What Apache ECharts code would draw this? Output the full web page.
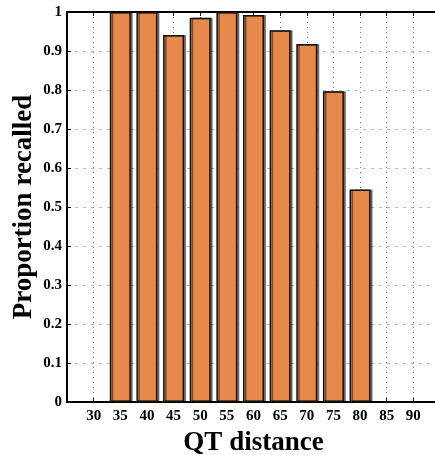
<!DOCTYPE html>
<html>
<head>
<meta charset="utf-8">
<script src="https://cdn.jsdelivr.net/npm/echarts@6/dist/echarts.min.js"></script>
<style>
  html, body { margin: 0; padding: 0; background: #fff; }
  #chart { width: 435px; height: 455px; }
</style>
</head>
<body>
<div id="chart"></div>
<script>
// QT distance vs proportion recalled
const distances = [35, 40, 45, 50, 55, 60, 65, 70, 75, 80];
const recalled = [1.0, 1.0, 0.941, 0.985, 1.0, 0.992, 0.953, 0.918, 0.797, 0.545];
const xTicks = [30, 35, 40, 45, 50, 55, 60, 65, 70, 75, 80, 85, 90];

const serif = '"Liberation Serif", "DejaVu Serif", serif';
const chart = echarts.init(document.getElementById('chart'));

const tickFmt = v => (xTicks.indexOf(v) >= 0 ? String(v) : '');

chart.setOption({
    animation: false,
    grid: {
        left: 67,
        right: -5,
        top: 12,
        bottom: 53,
        containLabel: false,
        outerBoundsMode: 'none',
        show: true,
        borderColor: '#000',
        borderWidth: 1.5
    },
    xAxis: [
        {
            type: 'value',
            min: 25,
            max: 95,
            interval: 5,
            name: 'QT distance',
            nameLocation: 'middle',
            nameGap: 28,
            nameTextStyle: {fontFamily: serif, fontWeight: 'bold', fontSize: 27, color: '#000'},
            axisLine: {show: true, lineStyle: {color: '#000', width: 2}},
            axisTick: {show: true, inside: true, length: 4, lineStyle: {color: '#000'}},
            axisLabel: {
                formatter: tickFmt,
                fontFamily: serif, fontWeight: 'bold', fontSize: 15, color: '#000', margin: 7
            },
            splitLine: {show: true, lineStyle: {color: '#777', type: [1, 4], width: 1}}
        },
        {
            type: 'value',
            position: 'top',
            min: 25,
            max: 95,
            interval: 5,
            axisLine: {show: true, lineStyle: {color: '#000', width: 2}},
            axisTick: {show: true, inside: true, length: 4, lineStyle: {color: '#000'}},
            axisLabel: {show: false},
            splitLine: {show: false}
        }
    ],
    yAxis: {
        type: 'value',
        min: 0,
        max: 1,
        interval: 0.1,
        name: 'Proportion recalled',
        nameLocation: 'middle',
        nameGap: 29,
        nameMoveOverlap: false,
        nameTextStyle: {fontFamily: serif, fontWeight: 'bold', fontSize: 27, color: '#000'},
        axisLine: {show: true, lineStyle: {color: '#000', width: 2}},
        axisTick: {show: true, inside: true, length: 4, lineStyle: {color: '#000'}},
        axisLabel: {
            formatter: v => (v === 0 || v === 1 ? String(v) : v.toFixed(1)),
            fontFamily: serif, fontWeight: 'bold', fontSize: 15, color: '#000', margin: 5
        },
        splitLine: {show: true, lineStyle: {color: '#bbb', type: [3, 5], width: 1}}
    },
    series: [
        {
            type: 'bar',
            data: distances.map((d, i) => [d, recalled[i]]),
            barWidth: 21,
            itemStyle: {
                color: '#E6894A',
                borderColor: '#111',
                borderWidth: 1.5,
                shadowColor: 'rgba(0,0,0,0.45)',
                shadowOffsetX: 2,
                shadowOffsetY: 0,
                shadowBlur: 0
            }
        }
    ]
});
</script>
</body>
</html>
